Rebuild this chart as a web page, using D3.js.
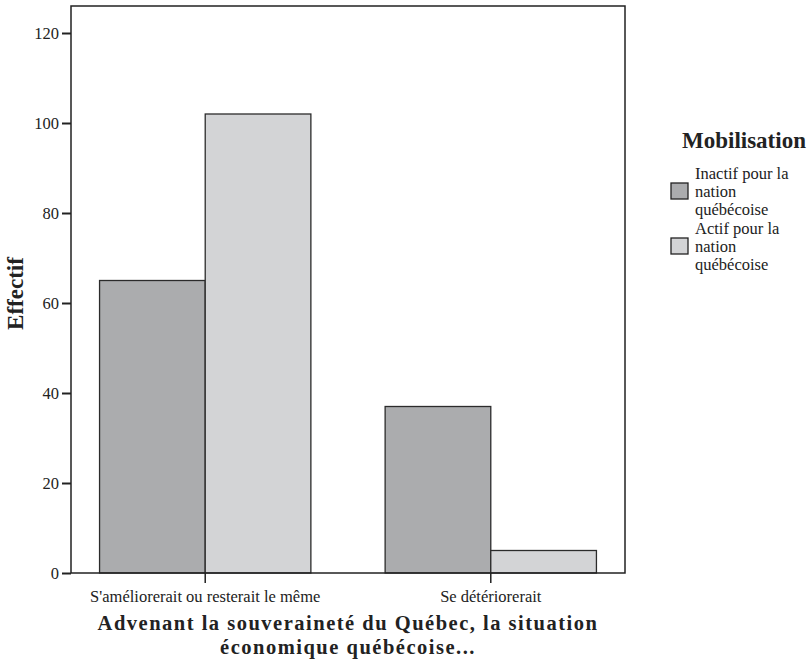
<!DOCTYPE html>
<html><head><meta charset="utf-8">
<script src="https://cdn.jsdelivr.net/npm/d3@7"></script>
<style>body{margin:0;background:#fff}svg{display:block}text{font-family:"Liberation Serif","Times New Roman",serif;fill:#222}</style>
</head><body>
<script>
const categories = ["S'améliorerait ou resterait le même", "Se détériorerait"];
const seriesNames = ["Inactif pour la nation québécoise", "Actif pour la nation québécoise"];
const seriesLegendLines = [["Inactif pour la", "nation", "québécoise"], ["Actif pour la", "nation", "québécoise"]];
const inactif = [65, 37];
const actif = [102, 5];
const yTicks = [0, 20, 40, 60, 80, 100, 120];
const colors = ["#abacae", "#d3d4d6"];

const W = 812, H = 660;
const L = 71, R = 625, T = 6, B = 573;
const svg = d3.select("body").append("svg").attr("width", W).attr("height", H);

const y = d3.scaleLinear().domain([0, 126]).range([B, T]);
const x0 = d3.scaleBand().domain(categories).range([L, R]).paddingInner(0.26).paddingOuter(0.1);
const x1 = d3.scaleBand().domain([0, 1]).range([0, x0.bandwidth()]);

const data = categories.map((c, i) => ({cat: c, vals: [inactif[i], actif[i]]}));

// bars
const g = svg.append("g");
data.forEach(d => {
  d.vals.forEach((v, j) => {
    g.append("rect")
      .attr("x", x0(d.cat) + x1(j))
      .attr("y", y(v))
      .attr("width", x1.bandwidth())
      .attr("height", y(0) - y(v))
      .attr("fill", colors[j])
      .attr("stroke", "#2b2b2b")
      .attr("stroke-width", 1.3);
  });
});

// frame
svg.append("rect").attr("x", L).attr("y", T).attr("width", R - L).attr("height", B - T)
  .attr("fill", "none").attr("stroke", "#222").attr("stroke-width", 1.5);

// y axis
const ya = svg.append("g").attr("transform", `translate(${L},0)`)
  .call(d3.axisLeft(y).tickValues(yTicks).tickSize(9).tickPadding(3));
ya.select(".domain").remove();
ya.selectAll("line").attr("stroke", "#222").attr("stroke-width", 2);
ya.selectAll("text").attr("font-size", 16.5).style("font-family", '"Liberation Serif",serif').attr("fill", "#333");

// x axis
const xa = svg.append("g").attr("transform", `translate(0,${B})`)
  .call(d3.axisBottom(x0).tickSize(10).tickPadding(7));
xa.select(".domain").remove();
xa.selectAll("line").attr("stroke", "#222").attr("stroke-width", 1.5);
xa.selectAll("text").attr("font-size", 16.5).style("font-family", '"Liberation Serif",serif').attr("fill", "#333");

// axis titles
svg.append("text").attr("transform", `translate(23,${(T + B) / 2 + 4}) rotate(-90)`)
  .attr("text-anchor", "middle").attr("font-size", 23).attr("font-weight", "bold").text("Effectif");
const xt = svg.append("text").attr("text-anchor", "middle").attr("font-size", 20.5)
  .attr("font-weight", "bold").attr("letter-spacing", 1.5);
xt.append("tspan").attr("x", 348).attr("y", 630).text("Advenant la souveraineté du Québec, la situation");
xt.append("tspan").attr("x", 348).attr("y", 654).text("économique québécoise...");

// legend
svg.append("text").attr("x", 682).attr("y", 148).attr("font-size", 23).attr("font-weight", "bold").text("Mobilisation");
seriesLegendLines.forEach((lines, i) => {
  const top = 169 + i * 55;
  svg.append("rect").attr("x", 671).attr("y", top + 14).attr("width", 17).attr("height", 16)
    .attr("fill", colors[i]).attr("stroke", "#222").attr("stroke-width", 1.3);
  const t = svg.append("text").attr("font-size", 16.5).attr("fill", "#333");
  lines.forEach((ln, k) => t.append("tspan").attr("x", 695).attr("y", top + 10 + k * 18).text(ln));
});
</script>
</body></html>
